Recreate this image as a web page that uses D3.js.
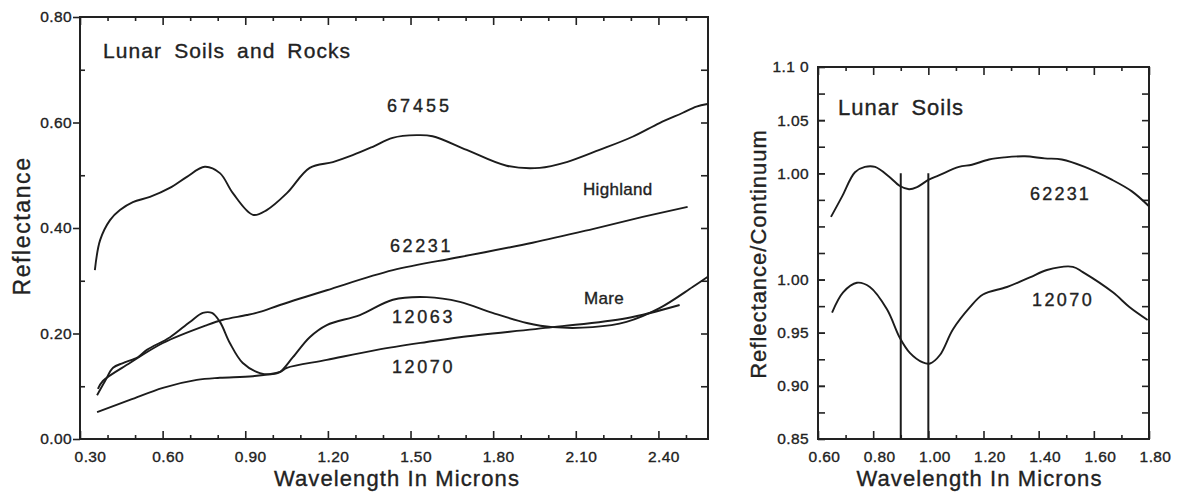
<!DOCTYPE html>
<html>
<head>
<meta charset="utf-8">
<script src="https://cdn.jsdelivr.net/npm/d3@7"></script>
<style>
  body { margin: 0; background: #fff; }
  svg text { font-family: "Liberation Sans", Arial, sans-serif; fill: #222; stroke: #222; stroke-width: 0.35px; }
  .frame { fill: none; stroke: #222; stroke-width: 2; }
  .tick line { stroke: #222; stroke-width: 1.6; }
  .domain { display: none; }
  .spectrum { fill: none; stroke: #1c1c1c; stroke-width: 1.9; }
  .marker { stroke: #1c1c1c; stroke-width: 2; }
</style>
</head>
<body>
<svg id="chart" width="1184" height="492"></svg>
<script>
/* ---- data: [wavelength (microns), reflectance] ---- */
const sample67455 = [
  [0.354, 0.320], [0.373, 0.377], [0.409, 0.415], [0.445, 0.434], [0.492, 0.449],
  [0.554, 0.459], [0.626, 0.476], [0.688, 0.497], [0.753, 0.516], [0.808, 0.504],
  [0.855, 0.466], [0.928, 0.425], [0.978, 0.434], [1.051, 0.466], [1.134, 0.514],
  [1.218, 0.525], [1.290, 0.538], [1.363, 0.554], [1.435, 0.571], [1.522, 0.576],
  [1.580, 0.574], [1.704, 0.548], [1.849, 0.518], [1.969, 0.514], [2.067, 0.525],
  [2.186, 0.548], [2.306, 0.573], [2.404, 0.599], [2.487, 0.618], [2.538, 0.630],
  [2.578, 0.635]
];
const sample62231 = [
  [0.365, 0.095], [0.383, 0.110], [0.481, 0.144], [0.601, 0.182], [0.761, 0.216],
  [0.819, 0.226], [0.906, 0.235], [0.953, 0.241], [1.026, 0.254], [1.196, 0.282],
  [1.436, 0.320], [1.679, 0.345], [1.943, 0.372], [2.161, 0.398], [2.343, 0.421],
  [2.506, 0.440]
];
const sample12063 = [
  [0.362, 0.083], [0.391, 0.110], [0.420, 0.135], [0.456, 0.144], [0.510, 0.155],
  [0.543, 0.169], [0.627, 0.193], [0.699, 0.222], [0.746, 0.239], [0.779, 0.239],
  [0.808, 0.222], [0.844, 0.182], [0.891, 0.144], [0.953, 0.125], [1.000, 0.123],
  [1.026, 0.127], [1.073, 0.155], [1.134, 0.193], [1.196, 0.216], [1.316, 0.235],
  [1.436, 0.264], [1.559, 0.269], [1.679, 0.260], [1.798, 0.239], [1.922, 0.220],
  [2.016, 0.212], [2.161, 0.212], [2.284, 0.222], [2.404, 0.248], [2.524, 0.288],
  [2.578, 0.307]
];
const sample12070 = [
  [0.362, 0.051], [0.481, 0.074], [0.601, 0.097], [0.724, 0.112], [0.808, 0.116],
  [0.928, 0.119], [1.026, 0.127], [1.051, 0.135], [1.196, 0.150], [1.378, 0.169],
  [1.559, 0.184], [1.679, 0.193], [2.016, 0.212], [2.284, 0.229], [2.477, 0.254]
];

/* continuum-removed spectra (right panel) */
const ratio62231 = [
  [0.647, 0.959], [0.687, 0.978], [0.734, 1.001], [0.770, 1.006], [0.807, 1.006],
  [0.857, 0.997], [0.897, 0.988], [0.930, 0.985], [0.959, 0.987], [1.002, 0.994],
  [1.038, 0.998], [1.111, 1.006], [1.158, 1.008], [1.220, 1.013], [1.277, 1.015],
  [1.350, 1.016], [1.422, 1.014], [1.484, 1.013], [1.567, 1.006], [1.665, 0.994],
  [1.738, 0.983], [1.800, 0.969]
];
const ratio12070 = [
  [0.651, 0.969], [0.691, 0.988], [0.741, 0.997], [0.788, 0.993], [0.850, 0.972],
  [0.897, 0.945], [0.933, 0.931], [0.980, 0.922], [1.006, 0.921], [1.042, 0.929],
  [1.089, 0.953], [1.151, 0.974], [1.198, 0.986], [1.285, 0.993], [1.368, 1.002],
  [1.430, 1.009], [1.524, 1.012], [1.560, 1.007], [1.669, 0.988], [1.730, 0.974],
  [1.795, 0.962]
];
const bandMarkers = [0.90, 1.00];

/* ---- ticks ---- */
const leftXMajor = [0.3, 0.6, 0.9, 1.2, 1.5, 1.8, 2.1, 2.4];
const leftXLabels = ['0.30', '0.60', '0.90', '1.20', '1.50', '1.80', '2.10', '2.40'];
const leftXMinor = [0.4, 0.5, 0.7, 0.8, 1.0, 1.1, 1.3, 1.4, 1.6, 1.7, 1.9, 2.0, 2.2, 2.3, 2.5];
const leftYMajor = [0, 0.2, 0.4, 0.6, 0.8];
const leftYLabels = ['0.00', '0.20', '0.40', '0.60', '0.80'];
const leftYMinor = [0.1, 0.3, 0.5, 0.7];

const rightXMajor = [0.6, 0.8, 1.0, 1.2, 1.4, 1.6, 1.8];
const rightXLabels = ['0.60', '0.80', '1.00', '1.20', '1.40', '1.60', '1.80'];
const rightXMinor = [0.7, 0.9, 1.1, 1.3, 1.5, 1.7];
const rightYTicks = [0.875, 0.9, 0.925, 0.95, 0.975, 1.0, 1.025, 1.05, 1.075, 1.1, 1.125, 1.15, 1.175];
const lowerYMajor = [0.85, 0.90, 0.95, 1.00];
const lowerYLabels = ['0.85', '0.90', '0.95', '1.00'];
const upperYMajor = [1.00, 1.05, 1.10];
const upperYLabels = ['1.00', '1.05', '1.1 0'];

class SpectraPanel {
  constructor(_config, _series) {
    this.config = _config;
    this.series = _series;
    this.initVis();
  }

  /* frame, scales and all the tick marks */
  initVis() {
    const vis = this;
    const c = vis.config;

    vis.width = c.right - c.left;
    vis.height = c.bottom - c.top;

    vis.chartArea = d3.select(c.parentElement).append('g')
      .attr('transform', `translate(${c.left},${c.top})`);

    vis.xScale = d3.scaleLinear().domain(c.xDomain).range([0, vis.width]);
    vis.yScales = c.yAxes.map((a) => d3.scaleLinear().domain(a.domain).range([vis.height, 0]));
    const y0 = vis.yScales[0];

    vis.chartArea.append('rect')
      .attr('class', 'frame')
      .attr('width', vis.width)
      .attr('height', vis.height);

    /* bottom labelled ticks point inward */
    const xLabelAxis = d3.axisBottom(vis.xScale)
      .tickValues(c.xMajor)
      .tickFormat((d, i) => c.xLabels[i])
      .tickSizeInner(-8).tickSizeOuter(0).tickPadding(12);
    vis.chartArea.append('g')
      .attr('transform', `translate(0,${vis.height})`)
      .call(xLabelAxis)
      .call((g) => g.selectAll('text')
        .attr('dx', (d, i) => (i === 0 ? c.firstLabelDx : c.labelDx))
        .style('letter-spacing', '0.4px'))
      .attr('font-size', 15.5).attr('font-family', null);

    vis.chartArea.append('g')
      .attr('transform', `translate(0,${vis.height})`)
      .call(d3.axisBottom(vis.xScale).tickValues(c.xMinor).tickFormat('').tickSize(-4));

    /* top edge ticks, pointing down */
    vis.chartArea.append('g')
      .call(d3.axisTop(vis.xScale).tickValues(c.xMajor).tickFormat('').tickSize(-8));
    vis.chartArea.append('g')
      .call(d3.axisTop(vis.xScale).tickValues(c.xMinor).tickFormat('').tickSize(-4));

    /* left labelled ticks */
    c.yAxes.forEach((a, i) => {
      vis.chartArea.append('g')
        .call(d3.axisLeft(vis.yScales[i])
          .tickValues(a.ticks)
          .tickFormat((d, j) => a.labels[j])
          .tickSizeInner(c.yMajorSize).tickSizeOuter(0).tickPadding(c.yPadding))
        .call((g) => g.selectAll('text').style('letter-spacing', '0.4px'))
        .attr('font-size', 15.5).attr('font-family', null);
    });
    vis.chartArea.append('g')
      .call(d3.axisLeft(y0).tickValues(c.yMinor).tickFormat('').tickSize(c.yMinorSize));

    /* right edge ticks, pointing left */
    vis.chartArea.append('g')
      .attr('transform', `translate(${vis.width},0)`)
      .call(d3.axisRight(y0).tickValues(c.yRightTicks).tickFormat('').tickSize(-7));

    /* annotations (panel-local pixel positions) */
    c.notes.forEach((n) => {
      vis.chartArea.append('text')
        .attr('x', n.x).attr('y', n.y)
        .attr('font-size', n.size)
        .style('letter-spacing', `${n.ls}px`)
        .style('word-spacing', `${n.ws || 0}px`)
        .text(n.text);
    });

    /* axis titles */
    vis.chartArea.append('text')
      .attr('x', vis.width / 2 + c.xTitleDx)
      .attr('y', vis.height + 47)
      .attr('text-anchor', 'middle')
      .attr('font-size', 22)
      .style('letter-spacing', '1.1px')
      .text(c.xTitle);
    vis.chartArea.append('text')
      .attr('transform', `translate(${c.yTitleX},${vis.height / 2 + c.yTitleDy})rotate(-90)`)
      .attr('text-anchor', 'middle')
      .attr('font-size', c.yTitleSize)
      .style('letter-spacing', `${c.yTitleLs}px`)
      .text(c.yTitle);

    vis.renderVis();
  }

  /* draw the spectra */
  renderVis() {
    const vis = this;
    const c = vis.config;

    if (c.markers) {
      vis.chartArea.selectAll('.marker')
        .data(c.markers)
        .join('line')
        .attr('class', 'marker')
        .attr('x1', (d) => vis.xScale(d))
        .attr('x2', (d) => vis.xScale(d))
        .attr('y1', vis.yScales[0](c.markerTop))
        .attr('y2', vis.yScales[0](c.yAxes[0].domain[0]));
    }

    vis.chartArea.selectAll('.spectrum')
      .data(vis.series)
      .join('path')
      .attr('class', 'spectrum')
      .attr('d', (s) => d3.line()
        .x((d) => vis.xScale(d[0]))
        .y((d) => vis.yScales[s.axis](d[1]))
        .curve(d3.curveCatmullRom.alpha(0.5))(s.values));
  }
}

const leftPanel = new SpectraPanel({
  parentElement: '#chart',
  left: 80, right: 708, top: 17, bottom: 439,
  xDomain: [0.3, 2.58],
  xMajor: leftXMajor, xLabels: leftXLabels, xMinor: leftXMinor,
  labelDx: 5, firstLabelDx: 10,
  yAxes: [{ domain: [0, 0.8], ticks: leftYMajor, labels: leftYLabels }],
  yMajorSize: 7, yPadding: 1,
  yMinor: leftYMinor, yMinorSize: -5,
  yRightTicks: [0.1, 0.2, 0.3, 0.4, 0.5, 0.6, 0.7],
  xTitle: 'Wavelength In Microns', xTitleDx: 3,
  yTitle: 'Reflectance', yTitleX: -50, yTitleDy: -2, yTitleSize: 23, yTitleLs: 1.6,
  notes: [
    { text: 'Lunar Soils and Rocks', x: 23, y: 41, size: 21, ls: 1.1, ws: 5 },
    { text: '67455', x: 307, y: 95, size: 18, ls: 3 },
    { text: 'Highland', x: 503, y: 178, size: 17, ls: 0.3 },
    { text: '62231', x: 310, y: 235, size: 18, ls: 2.6 },
    { text: 'Mare', x: 504, y: 287, size: 17, ls: 0.3 },
    { text: '12063', x: 312, y: 306, size: 18, ls: 2.6 },
    { text: '12070', x: 312, y: 356, size: 18, ls: 2.6 },
  ],
}, [
  { values: sample67455, axis: 0 },
  { values: sample62231, axis: 0 },
  { values: sample12063, axis: 0 },
  { values: sample12070, axis: 0 },
]);

const rightPanel = new SpectraPanel({
  parentElement: '#chart',
  left: 818, right: 1149, top: 67, bottom: 439,
  xDomain: [0.6, 1.8],
  xMajor: rightXMajor, xLabels: rightXLabels, xMinor: rightXMinor,
  labelDx: 6, firstLabelDx: 6,
  yAxes: [
    { domain: [0.85, 1.20], ticks: lowerYMajor, labels: lowerYLabels },
    { domain: [0.75, 1.10], ticks: upperYMajor, labels: upperYLabels },
  ],
  yMajorSize: -7, yPadding: 9,
  yMinor: rightYTicks, yMinorSize: -7,
  yRightTicks: rightYTicks,
  markers: bandMarkers, markerTop: 1.10,
  xTitle: 'Wavelength In Microns', xTitleDx: -4,
  yTitle: 'Reflectance/Continuum', yTitleX: -52, yTitleDy: 1, yTitleSize: 22, yTitleLs: 1,
  notes: [
    { text: 'Lunar Soils', x: 20, y: 48, size: 22, ls: 1, ws: 5 },
    { text: '62231', x: 212, y: 133, size: 18, ls: 2.2 },
    { text: '12070', x: 214, y: 239, size: 18, ls: 2.4 },
  ],
}, [
  { values: ratio62231, axis: 1 },
  { values: ratio12070, axis: 0 },
]);
</script>
</body>
</html>
